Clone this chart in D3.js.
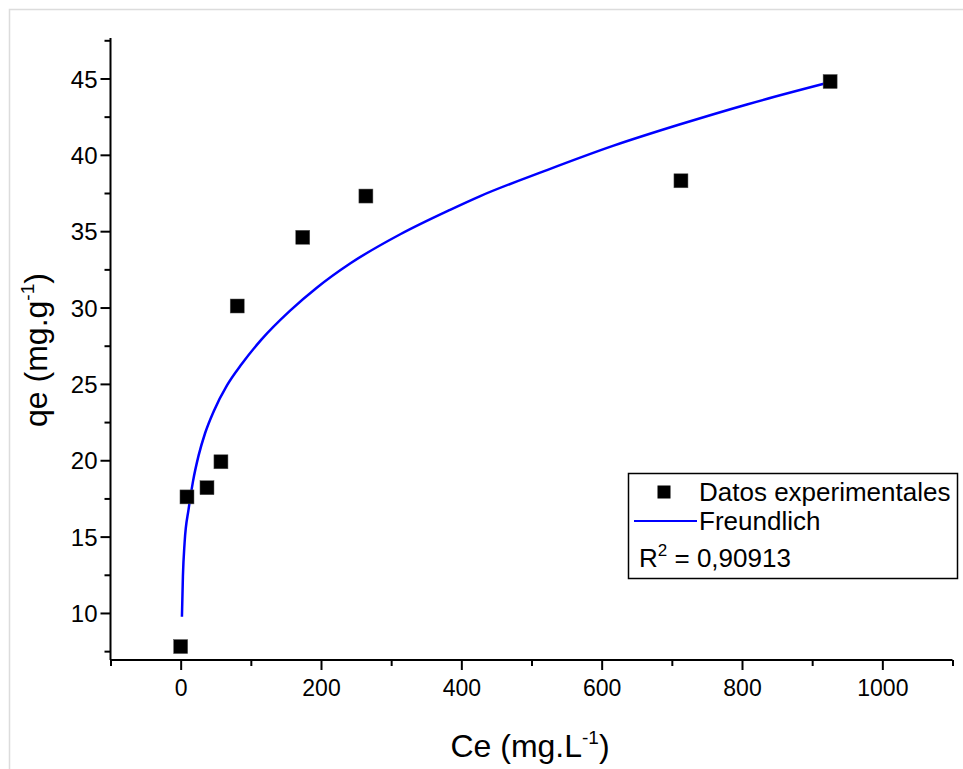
<!DOCTYPE html>
<html lang="en">

<head>
	<meta charset="UTF-8">
	<title>Freundlich</title>
	<script type="text/javascript" src="https://cdn.jsdelivr.net/npm/d3@7/dist/d3.min.js" charset="UTF-8"></script>
	<style>
		body { margin: 0; background: #fff; }
		text { font-family: "Liberation Sans", Arial, sans-serif; fill: #000; }
	</style>
</head>

<body>
	<script type="text/javascript">
	// experimental points
	let ceData = [0, 9, 37.5, 57.4, 80.6, 174, 264, 713, 925.6]
	let qeData = [7.8, 17.6, 18.2, 19.9, 30.1, 34.6, 37.3, 38.3, 44.8]

	// Freundlich curve
	let fitCe = [1.8, 3.2, 5.6, 11.3, 17.5, 25.5, 35, 47, 66, 87, 115, 156, 194, 242, 313, 384, 427, 522, 617, 712, 807, 925]
	let fitQe = [9.75, 12.4, 14.6, 16.8, 18.6, 20.3, 21.8, 23.2, 24.9, 26.3, 27.9, 29.8, 31.3, 32.9, 34.8, 36.4, 37.3, 39.0, 40.6, 42.0, 43.3, 44.75]

	let xTicks = [0, 200, 400, 600, 800, 1000]
	let xMinor = [-100, 100, 300, 500, 700, 900, 1100]
	let yTicks = [10, 15, 20, 25, 30, 35, 40, 45]
	let yMinor = [7.5, 12.5, 17.5, 22.5, 27.5, 32.5, 37.5, 42.5, 47.5]

	let width = 963,
		height = 769;

	let svg = d3.select('body').append('svg')
		.attr('width', width)
		.attr('height', height)

	svg.append('rect')
		.attr('x', 0).attr('y', 0)
		.attr('width', width).attr('height', height)
		.attr('fill', '#fff')

	// page frame
	svg.append('rect')
		.attr('x', 9.5).attr('y', 9.5)
		.attr('width', width + 20).attr('height', height + 20)
		.attr('fill', 'none')
		.attr('stroke', '#dcdcdc')
		.attr('stroke-width', 1.5)

	let xScale = d3.scaleLinear()
		.domain([-100, 1100])
		.range([110.5, 952.5])

	let yScale = d3.scaleLinear()
		.domain([6.92, 47.65])
		.range([660, 38])

	// minor ticks
	svg.append('g')
		.attr('transform', 'translate(0,660)')
		.call(d3.axisBottom(xScale).tickValues(xMinor).tickSize(6).tickFormat(''))
		.call(g => g.select('.domain').remove())

	svg.append('g')
		.attr('transform', 'translate(110.5,0)')
		.call(d3.axisLeft(yScale).tickValues(yMinor).tickSize(6).tickFormat(''))
		.call(g => g.select('.domain').remove())

	// major ticks + labels
	let gx = svg.append('g')
		.attr('transform', 'translate(0,660)')
		.call(d3.axisBottom(xScale).tickValues(xTicks).tickSize(10).tickSizeOuter(0).tickFormat(d3.format('d')))

	gx.select('.domain').attr('d', `M${xScale(-100)},0H${xScale(1100)}`)
	gx.selectAll('.tick text')
		.attr('font-size', 23)
		.attr('y', 36)
		.attr('dy', 0)

	let gy = svg.append('g')
		.attr('transform', 'translate(110.5,0)')
		.call(d3.axisLeft(yScale).tickValues(yTicks).tickSize(10).tickSizeOuter(0))

	gy.select('.domain').attr('d', `M0,${yScale(47.65)}V${yScale(6.92)}`)
	gy.selectAll('.tick text')
		.attr('font-size', 24)
		.attr('x', -13)
		.attr('dy', '0.36em')

	svg.selectAll('.domain, .tick line')
		.attr('stroke', '#000')
		.attr('stroke-width', 2)
	svg.selectAll('.tick text').attr('font-family', '"Liberation Sans", Arial, sans-serif').attr('fill', '#000')

	// axis titles
	let xt = svg.append('text')
		.attr('transform', 'translate(530,757)')
		.attr('text-anchor', 'middle')
		.attr('font-size', 32)
	xt.append('tspan').text('Ce (mg.L')
	xt.append('tspan').attr('font-size', 19).attr('dy', -13).text('-1')
	xt.append('tspan').attr('dy', 13).text(')')

	let yt = svg.append('text')
		.attr('transform', 'translate(47,350) rotate(-90)')
		.attr('text-anchor', 'middle')
		.attr('font-size', 32)
	yt.append('tspan').text('qe (mg.g')
	yt.append('tspan').attr('font-size', 19).attr('dy', -13).text('-1')
	yt.append('tspan').attr('dy', 13).text(')')

	// fitted curve
	let line = d3.line()
		.x(d => xScale(d[0]))
		.y(d => yScale(d[1]))
		.curve(d3.curveMonotoneX)

	svg.append('path')
		.datum(d3.zip(fitCe, fitQe))
		.attr('d', line)
		.attr('fill', 'none')
		.attr('stroke', '#0000ff')
		.attr('stroke-width', 2.5)

	// points
	let ms = 14
	svg.selectAll('rect.pt')
		.data(d3.zip(ceData, qeData))
		.enter()
		.append('rect')
		.attr('class', 'pt')
		.attr('x', d => xScale(d[0]) - ms / 2)
		.attr('y', d => yScale(d[1]) - ms / 2)
		.attr('width', ms)
		.attr('height', ms)
		.attr('fill', '#000')
		.attr('stroke', '#555')
		.attr('stroke-width', 0.5)

	// legend
	let lg = svg.append('g')
	lg.append('rect')
		.attr('x', 628.5).attr('y', 473.5)
		.attr('width', 329).attr('height', 105)
		.attr('fill', '#fff')
		.attr('stroke', '#000')
		.attr('stroke-width', 1.5)
	lg.append('rect')
		.attr('x', 664 - 6.5).attr('y', 492 - 6.5)
		.attr('width', 13).attr('height', 13)
		.attr('fill', '#000')
	lg.append('line')
		.attr('x1', 634).attr('x2', 697)
		.attr('y1', 521).attr('y2', 521)
		.attr('stroke', '#0000ff')
		.attr('stroke-width', 2)
	lg.append('text')
		.attr('x', 699).attr('y', 501)
		.attr('font-size', 26)
		.text('Datos experimentales')
	lg.append('text')
		.attr('x', 699).attr('y', 530)
		.attr('font-size', 26)
		.text('Freundlich')
	let r2 = lg.append('text')
		.attr('x', 639).attr('y', 567)
		.attr('font-size', 26)
	r2.append('tspan').text('R')
	r2.append('tspan').attr('font-size', 17).attr('dy', -11).text('2')
	r2.append('tspan').attr('dy', 11).text(' = 0,90913')
	</script>
</body>

</html>
